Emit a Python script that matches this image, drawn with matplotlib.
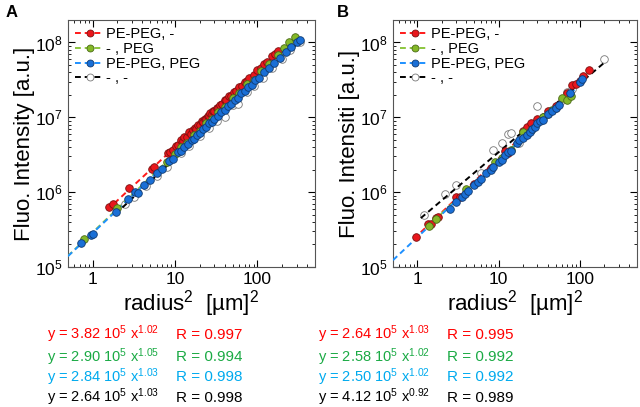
import matplotlib
matplotlib.use('Agg')
import matplotlib.pyplot as plt
import matplotlib.ticker as ticker
from matplotlib.lines import Line2D
import numpy as np

plt.rcParams['font.family'] = ['Liberation Sans', 'DejaVu Sans']
plt.rcParams['mathtext.fontset'] = 'custom'
plt.rcParams['mathtext.rm'] = 'Liberation Sans'
plt.rcParams['mathtext.it'] = 'Liberation Sans'
plt.rcParams['mathtext.default'] = 'regular'

# ---- panel A data: radius^2 [um^2] vs fluorescence [a.u.]
a_red_x = [1.6, 1.75, 2.8, 5.2, 5.6, 8.3, 8.8, 9.5, 10.2, 11, 11.8, 12.5, 13, 14, 15, 15.5,
           16.5, 17.5, 18, 19, 20, 21, 22, 23, 24, 25, 26, 27, 28, 29, 30, 32, 33, 35, 37,
           40, 42, 45, 48, 52, 55, 60, 65, 70, 75, 80, 90, 100, 110, 120, 130, 150, 165, 180]
a_red_y = [6.4e5, 7.0e5, 1.12e6, 2.05e6, 2.15e6, 3.35e6, 3.45e6, 3.7e6, 4.2e6, 4.3e6, 4.9e6,
           4.8e6, 5.4e6, 5.5e6, 6.3e6, 6.0e6, 6.8e6, 7.2e6, 7.0e6, 7.9e6, 8.0e6, 8.8e6, 8.7e6,
           9.6e6, 9.5e6, 1.04e7, 1.03e7, 1.13e7, 1.12e7, 1.22e7, 1.2e7, 1.34e7, 1.32e7, 1.46e7,
           1.5e7, 1.68e7, 1.7e7, 1.9e7, 1.95e7, 2.2e7, 2.25e7, 2.55e7, 2.65e7, 2.95e7, 3.1e7,
           3.4e7, 3.7e7, 4.3e7, 4.6e7, 5.2e7, 5.4e7, 6.5e7, 7.0e7, 7.8e7]
a_green_x = [0.78, 2.0, 8, 10, 12, 14, 17, 20, 24, 28, 33, 40, 50, 60, 75, 90, 110, 140, 180,
             210, 240, 285]
a_green_y = [2.4e5, 6.2e5, 2.55e6, 3.2e6, 4.0e6, 4.5e6, 5.8e6, 6.6e6, 8.3e6, 9.4e6, 1.16e7,
             1.38e7, 1.8e7, 2.1e7, 2.75e7, 3.2e7, 4.1e7, 5.1e7, 6.9e7, 8.5e7, 1.0e8, 1.2e8]
a_blue_x = [0.72, 0.95, 1.0, 1.9, 2.7, 3.3, 3.6, 4.2, 5, 6, 7, 8.5, 9.5, 11, 12, 13, 14.5, 16,
            17, 18.5, 20, 22, 24, 26, 28, 30, 33, 36, 40, 44, 48, 53, 58, 64, 70, 77, 85, 95,
            105, 120, 140, 160, 190, 220, 260, 300, 330]
a_blue_y = [2.1e5, 2.7e5, 2.8e5, 5.4e5, 8.2e5, 1.02e6, 9.8e5, 1.25e6, 1.45e6, 1.82e6, 2.05e6,
            2.6e6, 2.8e6, 3.4e6, 3.6e6, 4.05e6, 4.4e6, 5.0e6, 5.2e6, 5.8e6, 6.1e6, 6.9e6,
            7.4e6, 8.3e6, 8.6e6, 9.6e6, 1.03e7, 1.16e7, 1.25e7, 1.42e7, 1.5e7, 1.72e7, 1.83e7,
            2.1e7, 2.22e7, 2.53e7, 2.7e7, 3.12e7, 3.38e7, 4.0e7, 4.55e7, 5.35e7, 6.25e7,
            7.5e7, 8.6e7, 1.02e8, 1.08e8]
a_black_x = [2.5, 3.2, 4.5, 6, 8, 12, 15, 20, 26, 32, 40, 50, 58, 75, 90, 118, 150, 200, 250, 330]
a_black_y = [7.0e5, 8.5e5, 1.2e6, 1.65e6, 2.2e6, 3.3e6, 4.1e6, 5.6e6, 7.3e6, 9.0e6, 1.0e7,
             1.45e7, 1.5e7, 2.2e7, 2.65e7, 3.4e7, 4.5e7, 6.0e7, 8.0e7, 1.02e8]

# ---- panel B data
b_red_x = [0.95, 1.35, 1.45, 1.7, 1.8, 3, 3.3, 5, 8, 12, 13, 20, 22, 25, 30, 40, 50, 70, 80,
           90, 100, 110, 130]
b_red_y = [2.5e5, 3.8e5, 3.7e5, 4.5e5, 4.6e5, 8.5e5, 8.7e5, 1.3e6, 2.1e6, 3.6e6, 3.3e6,
           6.5e6, 7.5e6, 8.5e6, 9.5e6, 1.2e7, 1.4e7, 2.1e7, 2.7e7, 2.8e7, 3.1e7, 3.6e7, 4.3e7]
b_green_x = [1.4, 1.7, 4, 9, 11, 14, 20, 25, 35, 45, 60, 70, 78]
b_green_y = [3.5e5, 4.4e5, 1.1e6, 2.5e6, 2.9e6, 3.7e6, 6.3e6, 6.8e6, 1.0e7, 1.25e7, 1.8e7,
             1.7e7, 1.95e7]
b_blue_x = [2.5, 3, 3.5, 3.8, 4.2, 5, 5.5, 6, 7, 8, 8.5, 10, 11, 12, 13, 14, 17, 18, 20, 22,
            24, 26, 28, 30, 32, 35, 40, 45, 50, 55, 75, 100, 105]
b_blue_y = [6.0e5, 7.5e5, 8.5e5, 9.5e5, 1.05e6, 1.25e6, 1.35e6, 1.5e6, 1.8e6, 2.0e6, 2.2e6,
            2.55e6, 2.7e6, 3.1e6, 3.4e6, 3.6e6, 4.5e6, 5.0e6, 5.3e6, 5.8e6, 6.3e6, 6.9e6,
            7.5e6, 8.5e6, 9.0e6, 9.3e6, 1.1e7, 1.2e7, 1.35e7, 1.45e7, 2.1e7, 3.0e7, 3.3e7]
b_black_x = [1.2, 2.2, 3, 6, 8.5, 11, 13, 14, 18, 25, 30, 35, 40, 50, 60, 70, 80, 200]
b_black_y = [5.0e5, 9.5e5, 1.25e6, 1.8e6, 3.7e6, 4.6e6, 6.0e6, 6.1e6, 4.6e6, 7.0e6, 1.4e7,
             1.0e7, 1.1e7, 1.35e7, 1.7e7, 2.2e7, 2.4e7, 6.0e7]

# fit results (prefactor in 1e5, exponent, R) and x range of each fitted line
a_fits = [(3.82, 1.02, 0.997, 1.5, 190), (2.90, 1.05, 0.994, 0.5, 290),
          (2.84, 1.03, 0.998, 0.5, 330), (2.64, 1.03, 0.998, 2.3, 330)]
b_fits = [(2.64, 1.03, 0.995, 0.9, 130), (2.58, 1.02, 0.992, 1.3, 80),
          (2.50, 1.02, 0.992, 0.5, 105), (4.12, 0.92, 0.989, 1.1, 200)]

labels = ['PE-PEG, -', '- , PEG', 'PE-PEG, PEG', '- , -']
line_colors = ['#ff1a1a', '#8cc63f', '#1e90ff', 'black']
face_colors = ['#e8171c', '#84b828', '#1a6fd6', 'white']
edge_colors = ['#7a1010', '#4a6a16', '#103a70', '#777777']
text_colors = ['#ff0000', '#1aaa44', '#00aaee', 'black']

fig = plt.figure(figsize=(6.4, 4.07), dpi=100)
axA = fig.add_axes([0.106, 0.344, 0.386, 0.607])
axB = fig.add_axes([0.614, 0.344, 0.381, 0.607])


def draw_panel(ax, series, fits, ylabel):
    for i, (xs, ys) in enumerate(series):
        a, b, r, x0, x1 = fits[i]
        xf = np.logspace(np.log10(x0), np.log10(x1), 50)
        ax.plot(xf, a * 1e5 * xf ** b, ls=(0, (3, 2)), color=line_colors[i], lw=1.4, zorder=3)
    for i, (xs, ys) in enumerate(series):
        ax.scatter(xs, ys, s=30, facecolor=face_colors[i], edgecolor=edge_colors[i],
                   linewidth=0.6, zorder=4 if i < 3 else 2)
    ax.set_xscale('log')
    ax.set_yscale('log')
    ax.set_xlim(0.5, 500)
    ax.set_ylim(1e5, 2e8)
    ax.xaxis.set_major_formatter(ticker.FuncFormatter(lambda v, p: f'{v:g}'))
    ax.xaxis.set_minor_formatter(ticker.NullFormatter())
    ax.tick_params(which='both', direction='in', top=True, right=True, labelsize=12.5)
    ax.tick_params(which='major', length=5)
    ax.tick_params(which='minor', length=2.5)
    for s in ax.spines.values():
        s.set_color('#555555')
    ax.set_xlabel(r'radius$^2$  [µm]$^2$', fontsize=16, labelpad=1)
    ax.set_ylabel(ylabel, fontsize=16, labelpad=0)
    handles = [Line2D([], [], ls=(0, (3, 2)), color=line_colors[i], lw=1.4, marker='o',
                      markersize=5, markerfacecolor=face_colors[i],
                      markeredgecolor=edge_colors[i], markeredgewidth=0.6) for i in range(4)]
    ax.legend(handles, labels, loc='upper left', frameon=False, fontsize=10.5,
              handlelength=2.0, handletextpad=0.1, labelspacing=0.05,
              borderaxespad=0.3, borderpad=0.2)


draw_panel(axA, [(a_red_x, a_red_y), (a_green_x, a_green_y), (a_blue_x, a_blue_y),
                 (a_black_x, a_black_y)], a_fits, 'Fluo. Intensity [a.u.]')
draw_panel(axB, [(b_red_x, b_red_y), (b_green_x, b_green_y), (b_blue_x, b_blue_y),
                 (b_black_x, b_black_y)], b_fits, 'Fluo. Intensiti [a.u.]')

fig.text(0.008, 0.97, 'A', fontsize=12, fontweight='bold', va='center')
fig.text(0.526, 0.97, 'B', fontsize=12, fontweight='bold', va='center')

# fit equations under each panel
rows_y = [0.178, 0.123, 0.073, 0.023]
for fits, xeq, xr in [(a_fits, 0.074, 0.275), (b_fits, 0.497, 0.699)]:
    for i, (a, b, r, x0, x1) in enumerate(fits):
        fig.text(xeq, rows_y[i], f'y = {a:.2f} 10$^{{5}}$ x$^{{{b:.2f}}}$', color=text_colors[i],
                 fontsize=10.5, va='center')
        fig.text(xr, rows_y[i], f'R = {r:.3f}', color=text_colors[i], fontsize=11, va='center')

fig.savefig('out.png', dpi=100)
